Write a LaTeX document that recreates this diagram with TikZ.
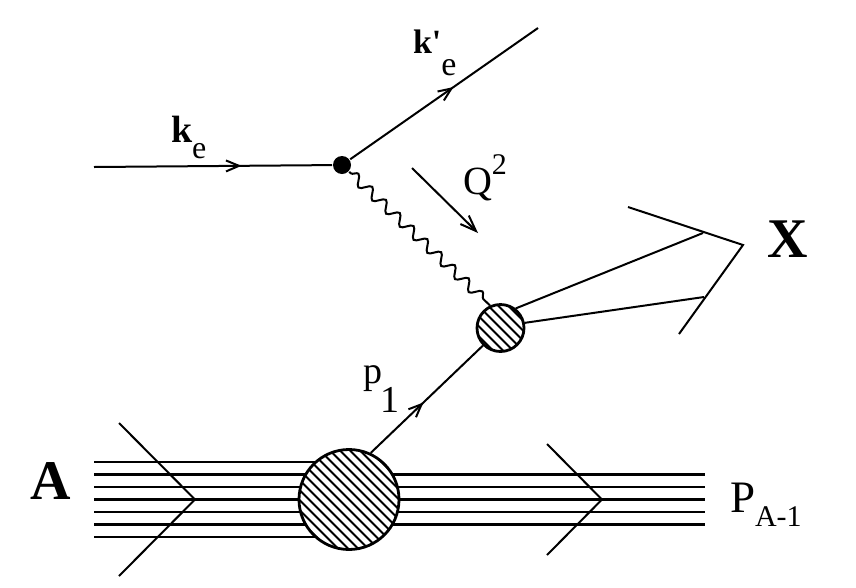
\documentclass[tikz,border=0pt]{standalone}
\usepackage{fontspec}
\setmainfont{Liberation Serif}
\usetikzlibrary{arrows.meta,decorations.markings,decorations.pathmorphing}

\begin{document}
\begin{tikzpicture}[x=1pt,y=-1pt,line width=2pt,
  barb/.tip={Straight Barb[length=13pt,width=11pt]},
  fermion/.style={postaction={decorate},decoration={markings,mark=at position #1 with {\arrow{barb}}}},
  nucleon/.style={line width=2.6pt},
  blob/.style={circle,draw,line width=2.8pt,fill=white,inner sep=0pt,
    path picture={\foreach \s in {-120,-110,...,120}
      \draw[line width=1.8pt] (path picture bounding box.center) ++(\s-70,-70) -- ++(140,140);}},
  photon/.style={decorate,decoration={snake,segment length=19pt,amplitude=5pt,pre length=2pt,post length=3pt}},
  lbl/.style={anchor=base west,inner sep=0pt}]
\useasboundingbox (0,0) rectangle (856,587);
% nucleus A and spectator system
\foreach \i in {0,...,6} \draw[nucleon] (94,462+12.5*\i) -- (349,462+12.5*\i);
\foreach \i in {1,...,5} \draw[nucleon] (349,462+12.5*\i) -- (705,462+12.5*\i);
\draw (119,423) -- (195,499.5) -- (119,576);
\draw (547,444) -- (602,499.5) -- (547,555);
\node[blob,minimum size=100pt] (nucl) at (349,499.5) {};
\node[blob,minimum size=47pt] (hit) at (500.5,328) {};
\node[circle,fill,inner sep=0pt,minimum size=18pt] (vtx) at (342,165) {};
% electron lines
\coordinate (ein) at (94,167);
\coordinate (eout) at (538,28);
\draw[fermion=0.62] (ein) -- (vtx);
\draw[fermion=0.55] (vtx) -- (eout);
\draw[photon] (vtx) -- (hit.115);
\coordinate (qa) at (412,168);
\coordinate (qb) at (478,233);
\draw[-{Straight Barb[length=16pt,width=12pt]}] (qa) -- (qb);
% struck nucleon
\draw[fermion=0.47] (nucl.65) -- (hit.225);
% hadronic final state
\coordinate (j1) at (703,233);
\coordinate (j2) at (704,297);
\draw (hit.52) -- (j1);
\draw (hit.12) -- (j2);
\draw (628,207) -- (743,245) -- (679,334);
% labels
\node[lbl] (lke) at (170,142) {\fontsize{38}{38}\selectfont\bfseries k\raisebox{-16pt}{\fontsize{32}{32}\selectfont\mdseries e}};
\node[lbl] (lkp) at (412,53) {\fontsize{34}{34}\selectfont\bfseries k\textquotesingle\raisebox{-22pt}{\fontsize{34}{34}\selectfont\mdseries e}};
\node[lbl] (lq) at (462,194) {\fontsize{40}{40}\selectfont Q\raisebox{20pt}{\fontsize{30}{30}\selectfont 2}};
\node[lbl] (lp) at (362,383) {\fontsize{38}{38}\selectfont p\kern-2pt\raisebox{-29pt}{1}};
\node[font=\fontsize{56}{56}\selectfont\bfseries,inner sep=0pt] (lA) at (51,481) {A};
\node[font=\fontsize{56}{56}\selectfont\bfseries,inner sep=0pt] (lX) at (788,239) {X};
\node[lbl] (lP) at (729,512) {\fontsize{45}{45}\selectfont P\raisebox{-14pt}{\fontsize{30}{30}\selectfont A-1}};
\end{tikzpicture}
\end{document}
